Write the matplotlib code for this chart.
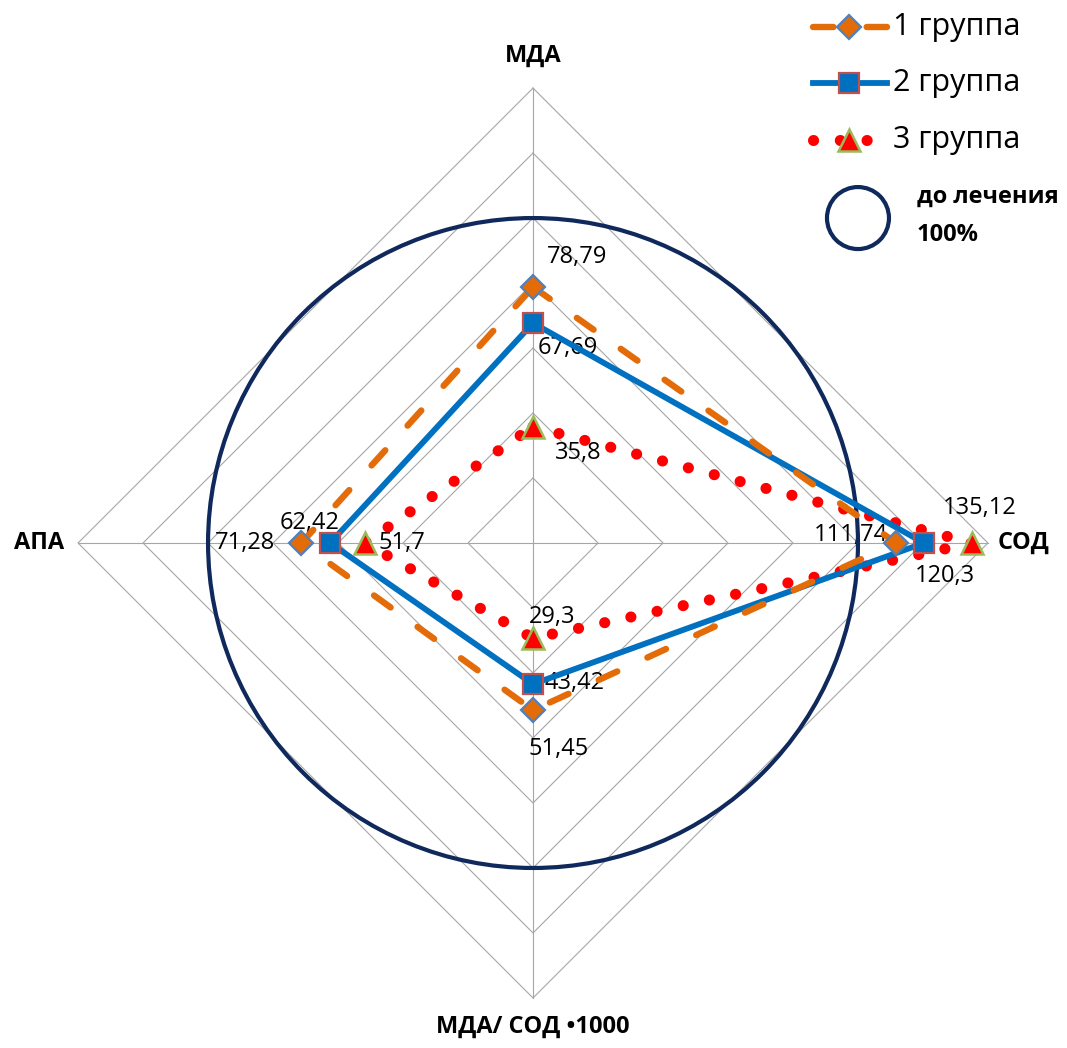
import numpy as np
import matplotlib.pyplot as plt
from matplotlib.patches import Circle

plt.rcParams['font.family'] = ['Open Sans', 'DejaVu Sans']

# оси лепестковой диаграммы (по часовой стрелке, начиная сверху)
axes_names = ['МДА', 'СОД', 'МДА/ СОД •1000', 'АПА']
group1 = [78.79, 111.74, 51.45, 71.28]
group2 = [67.69, 120.3, 43.42, 62.42]
group3 = [35.8, 135.12, 29.3, 51.7]
series_names = ['1 группа', '2 группа', '3 группа']
baseline = 100      # до лечения
r_max = 140
r_step = 20

angles = np.array([0, 90, 180, 270]) * np.pi / 180

# стили рядов
st1 = dict(color='#e36c09', lw=4.6, ls=(0, (3.2, 5.2)), dash_capstyle='round')
st2 = dict(color='#0070c0', lw=4.2)
st3 = dict(color='#ff0000', lw=8, ls=(0, (0.01, 2.4)), dash_capstyle='round')
mk1 = dict(marker='D', ms=12.5, mfc='#e36c09', mec='#4f81bd', mew=1.6)
mk2 = dict(marker='s', ms=14, mfc='#0070c0', mec='#c0504d', mew=1.6)
mk3 = dict(marker='^', ms=16, mfc='#ff0000', mec='#9bbb59', mew=1.8)


def to_xy(vals):
    v = np.asarray(vals, dtype=float)
    return v * np.sin(angles), v * np.cos(angles)


def closed(a):
    return np.append(a, a[0])


fig = plt.figure(figsize=(10.67, 10.48), dpi=100)
ax = fig.add_axes([0, 0, 1, 1])
ax.set_xlim(-164.0, 164.3)
ax.set_ylim(-155.4, 167.1)
ax.set_aspect('equal')
ax.axis('off')

# сетка-ромбы и лучи
for r in range(r_step, r_max + 1, r_step):
    gx, gy = to_xy([r] * 4)
    ax.plot(closed(gx), closed(gy), color='#a6a6a6', lw=0.8, zorder=1)
for a in angles:
    ax.plot([0, r_max * np.sin(a)], [0, r_max * np.cos(a)], color='#a6a6a6', lw=0.8, zorder=1)

# подписи осей
lbl = dict(ha='center', va='center', fontsize=17, fontweight='bold')
ax.text(0, 150, axes_names[0], **lbl)
ax.text(151, 0, axes_names[1], **lbl)
ax.text(0, -149, axes_names[2], **lbl)
ax.text(-152, 0, axes_names[3], **lbl)

# уровень до лечения
ax.add_patch(Circle((0, 0), baseline, fill=False, ec='#10295c', lw=3, zorder=3))

x1, y1 = to_xy(group1)
x2, y2 = to_xy(group2)
x3, y3 = to_xy(group3)

ax.plot(closed(x3), closed(y3), zorder=4, **st3)
ax.plot(closed(x2), closed(y2), zorder=5, **st2)
ax.plot(closed(x1), closed(y1), zorder=6, **st1)

ax.plot(x1, y1, ls='none', zorder=8, **mk1)
ax.plot(x2, y2, ls='none', zorder=8, **mk2)
ax.plot(x3, y3, ls='none', zorder=8, **mk3)

# подписи значений (смещения в пикселях)
offsets = [
    [(44, 30), (-45, 8), (26, -39), (-56, 0)],
    [(35, -25), (21, -33), (41, 1), (-21, 20)],
    [(45, -26), (8, 35), (19, 21), (37, 0)],
]
for vals, xs, ys, offs in zip([group1, group2, group3], [x1, x2, x3], [y1, y2, y3], offsets):
    for v, px, py, off in zip(vals, xs, ys, offs):
        ax.annotate(f'{v:g}'.replace('.', ','), (px, py), xytext=off, textcoords='offset pixels',
                    ha='center', va='center', fontsize=17, zorder=2)


# легенда
def px2d(px, py):
    return (px - 533) / 3.25, (543 - py) / 3.25


lx0, _ = px2d(813, 0)
lx1, _ = px2d(887, 0)
mx, _ = px2d(849, 0)
tx, _ = px2d(893, 0)
for py, name, st, mk in zip([27, 83, 140], series_names, [st1, st2, st3], [mk1, mk2, mk3]):
    _, ly = px2d(0, py)
    ax.plot([lx0, lx1], [ly, ly], **st)
    ax.plot(mx, ly, **mk)
    ax.text(tx, ly, name, ha='left', va='center', fontsize=22)

cx, cy = px2d(858, 218)
ax.add_patch(Circle((cx, cy), 31 / 3.25, fill=False, ec='#10295c', lw=3))
tx2, ty2 = px2d(917, 197)
ax.text(tx2, ty2, 'до лечения', ha='left', va='center', fontsize=17, fontweight='bold')
tx3, ty3 = px2d(917, 235)
ax.text(tx3, ty3, '100%', ha='left', va='center', fontsize=17, fontweight='bold')

fig.savefig('out.png', dpi=100, facecolor='white')
